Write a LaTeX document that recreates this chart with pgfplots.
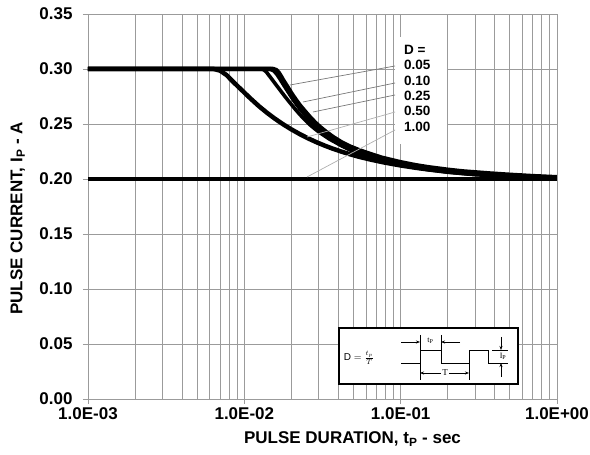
\documentclass[border=0pt]{standalone}
\usepackage{fontspec}
\setmainfont{Liberation Sans}
\newfontfamily\seriffont{Liberation Serif}
\usepackage{pgfplots}
\pgfplotsset{compat=1.18}
\usetikzlibrary{arrows.meta}
\definecolor{gridc}{RGB}{155,155,155}
\definecolor{leadc}{RGB}{120,120,120}
\definecolor{leadl}{RGB}{175,175,175}
\begin{document}
\begin{tikzpicture}[x=1pt,y=1pt]
\begin{axis}[
  at={(0pt,0pt)}, anchor=south west,
  scale only axis, width=469pt, height=385pt,
  xmode=log, log basis x=10,
  xmin=1e-3, xmax=1, ymin=0, ymax=0.35,
  xtick={1e-3,1e-2,1e-1,1},
  minor xtick={0.002,0.003,0.004,0.005,0.006,0.007,0.008,0.009,
               0.02,0.03,0.04,0.05,0.06,0.07,0.08,0.09,
               0.2,0.3,0.4,0.5,0.6,0.7,0.8,0.9},
  xticklabels={1.0E-03,1.0E-02,1.0E-01,1.0E+00},
  ytick={0,0.05,0.10,0.15,0.20,0.25,0.30,0.35},
  yticklabels={0.00,0.05,0.10,0.15,0.20,0.25,0.30,0.35},
  grid=both,
  major grid style={gridc, line width=0.9pt},
  minor grid style={gridc, line width=0.9pt},
  axis line style={gridc, line width=0.9pt},
  tick style={gridc, line width=0.9pt},
  tick align=outside, major tick length=5pt, minor tick length=0pt,
  xtick pos=left, ytick pos=left,
  ticklabel style={font=\fontsize{17}{17}\selectfont\bfseries},
  yticklabel style={xshift=-7pt},
  xlabel={PULSE DURATION, t\textsubscript{P} - sec},
  ylabel={PULSE CURRENT, I\textsubscript{P} - A},
  label style={font=\fontsize{17}{17}\selectfont\bfseries},
  xlabel style={at={(axis description cs:0.564,0)}, anchor=center, yshift=-40pt},
  ylabel style={at={(axis description cs:-0.150,0.469)}, anchor=center},
  clip=true,
]
% D = 1.00 (continuous)
\addplot[black, line width=4.5pt] coordinates {(0.001,0.2) (1,0.2)};
% D = 0.50
\addplot[black, line width=4.5pt, line join=round] coordinates {
(0.001,0.3) (0.0064,0.3) (0.0070,0.2985) (0.0077,0.2945) (0.00846,0.2885) (0.0096,0.2810) (0.01087,0.2736) (0.0124,0.2662) (0.01396,0.2602)
(0.0157,0.2548) (0.01768,0.2498) (0.0200,0.2451) (0.0227,0.2407) (0.0258,0.2367) (0.0292,0.2332) (0.0330,0.2301) (0.0369,0.2275) (0.0420,0.2248) (0.0474,0.2225)
(0.0545,0.2201) (0.0636,0.2178) (0.078,0.2151) (0.1,0.2123) (0.125,0.2102) (0.15,0.2087) (0.2,0.2066) (0.3,0.2043) (0.5,0.2027) (0.7,0.2018) (1,0.2010)};
% D = 0.25
\addplot[black, line width=3.6pt, line join=round] coordinates {
(0.001,0.3) (0.0131,0.3) (0.0138,0.2975) (0.01459,0.2930) (0.0157,0.2870) (0.0169,0.2810) (0.0182,0.2750) (0.0196,0.2693) (0.0211,0.2637) (0.0227,0.2585)
(0.0245,0.2536) (0.0263,0.2493) (0.0283,0.2455) (0.0305,0.2420) (0.0353,0.2360) (0.0410,0.2310) (0.0474,0.2268) (0.0540,0.2234) (0.0609,0.2207)
(0.075,0.2168) (0.1,0.2128) (0.125,0.2102) (0.15,0.2085) (0.2,0.2063) (0.25,0.2050) (0.373,0.2032) (0.5,0.2022) (0.7,0.2014) (1,0.2008)};
% D = 0.10
\addplot[black, line width=4.3pt, line join=round] coordinates {
(0.001,0.3) (0.0147,0.3) (0.0155,0.2985) (0.01618,0.2955) (0.0169,0.2915) (0.01768,0.2870) (0.0189,0.2805) (0.02018,0.2742) (0.0214,0.2690) (0.0227,0.2640)
(0.0245,0.2585) (0.0263,0.2535) (0.0283,0.2487) (0.0305,0.2445) (0.0335,0.2398) (0.0369,0.2355) (0.0420,0.2305) (0.0474,0.2268) (0.0540,0.2237) (0.0609,0.2212)
(0.075,0.2175) (0.1,0.2135) (0.125,0.2110) (0.15,0.2093) (0.2,0.2070) (0.25,0.2057) (0.373,0.2040) (0.5,0.2030) (0.7,0.2020) (1,0.2012)};
% D = 0.05
\addplot[black, line width=4.5pt, line join=round] coordinates {
(0.001,0.3) (0.0153,0.3) (0.0160,0.2990) (0.0166,0.2965) (0.0172,0.2930) (0.01768,0.2900) (0.0189,0.2835) (0.02018,0.2770) (0.0214,0.2718) (0.0227,0.2668)
(0.0245,0.2612) (0.0263,0.2562) (0.0283,0.2514) (0.0305,0.2472) (0.0335,0.2425) (0.0369,0.2382) (0.0420,0.2332) (0.0474,0.2295) (0.0540,0.2263) (0.0609,0.2237)
(0.075,0.2195) (0.1,0.2152) (0.125,0.2125) (0.15,0.2107) (0.2,0.2084) (0.25,0.2069) (0.373,0.2050) (0.5,0.2038) (0.7,0.2026) (1,0.2016)};
\end{axis}
% label box
\fill[white] (307,255) rectangle (359,362);
\begin{scope}[font=\fontsize{13.5}{13.5}\selectfont\bfseries]
\node[anchor=west, inner sep=0pt] at (316,349) {D =};
\node[anchor=west, inner sep=0pt] at (316,334) {0.05};
\node[anchor=west, inner sep=0pt] at (316,318) {0.10};
\node[anchor=west, inner sep=0pt] at (316,303) {0.25};
\node[anchor=west, inner sep=0pt] at (316,288) {0.50};
\node[anchor=west, inner sep=0pt] at (316,272) {1.00};
\end{scope}
\draw[leadc, line width=0.7pt] (307,333) -- (202,314);
\draw[leadc, line width=0.7pt] (307,316) -- (215,297);
\draw[leadc, line width=0.7pt] (307,304) -- (225,287);
\draw[leadl, line width=0.7pt] (307,287) -- (219,262);
\draw[leadl, line width=0.7pt] (307,269) -- (219,222);
% inset
\draw[black, line width=1.6pt, fill=white] (251,15) rectangle (430,71);
\node[font=\fontsize{10}{10}\selectfont] at (271,41) {$\mathrm{D}=\frac{t_p}{T}$};
\draw[black, line width=0.6pt] (313,36) -- (332,36) -- (332,49) -- (353,49) -- (353,36) -- (381,36) -- (381,49) -- (400,49) -- (400,36) -- (420,36);
\draw[black, line width=0.6pt] (404,49) -- (420,49);
\draw[black, line width=0.6pt, -{Stealth[length=4pt,width=3pt]}] (413,62) -- (413,49);
\draw[black, line width=0.6pt, -{Stealth[length=4pt,width=3pt]}] (413,22) -- (413,36);
\node[font=\seriffont\fontsize{8}{8}\selectfont, inner sep=0pt] at (415,42.5) {I\textsubscript{P}};
\draw[black, line width=0.6pt, -{Stealth[length=4pt,width=3pt]}] (313,57) -- (332,57);
\draw[black, line width=0.6pt, -{Stealth[length=4pt,width=3pt]}] (372,57) -- (353,57);
\draw[black, line width=0.6pt] (332,64) -- (332,49);
\draw[black, line width=0.6pt] (353,64) -- (353,49);
\node[font=\seriffont\fontsize{8}{8}\selectfont, inner sep=0pt] at (342.5,58) {t\textsubscript{P}};
\draw[black, line width=0.6pt] (332,36) -- (332,19);
\draw[black, line width=0.6pt] (381,36) -- (381,19);
\draw[black, line width=0.6pt, {Stealth[length=4pt,width=3pt]}-{Stealth[length=4pt,width=3pt]}] (332,26) -- (381,26);
\node[font=\seriffont\fontsize{9}{9}\selectfont, fill=white, inner sep=1pt] at (357,26) {T};
\pgfresetboundingbox
\path (-88,-56) rectangle (502,385+14);
\end{tikzpicture}
\end{document}
